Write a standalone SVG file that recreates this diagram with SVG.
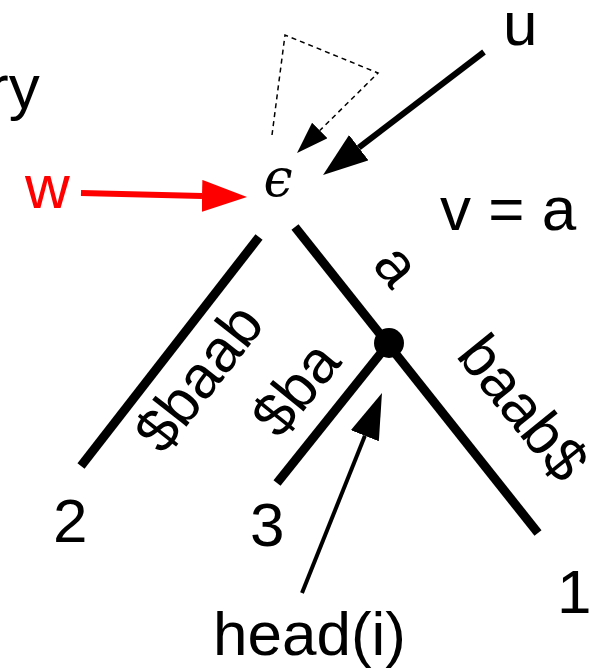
<svg xmlns="http://www.w3.org/2000/svg" width="607" height="671" viewBox="0 0 607 671">
<style>
  .t { font-family: "Liberation Sans", Arial, sans-serif; font-size: 62px; fill: #000; }
  .lbl { font-family: "Liberation Sans", Arial, sans-serif; font-size: 60px; fill: #000; text-anchor: middle; }
  .edge { stroke: #000; stroke-width: 9; fill: none; }
  .arr { stroke: #000; stroke-width: 6; fill: none; }
  .dash { stroke: #000; stroke-width: 1.5; stroke-dasharray: 5 4; fill: none; }
</style>
<defs>
  <marker id="ahBig" markerUnits="userSpaceOnUse" markerWidth="46" markerHeight="32" refX="0" refY="16" orient="auto">
    <path d="M0,0 L45,16 L0,32 z" fill="#000"/>
  </marker>
  <marker id="ahRed" markerUnits="userSpaceOnUse" markerWidth="46" markerHeight="32" refX="0" refY="16" orient="auto">
    <path d="M0,0 L45,16 L0,32 z" fill="#ff0000"/>
  </marker>
  <marker id="ahHead" markerUnits="userSpaceOnUse" markerWidth="47" markerHeight="30" refX="0" refY="15" orient="auto">
    <path d="M0,0 L46,15 L0,30 z" fill="#000"/>
  </marker>
  <marker id="ahDash" markerUnits="userSpaceOnUse" markerWidth="33" markerHeight="22" refX="0" refY="11" orient="auto">
    <path d="M0,0 L32,11 L0,22 z" fill="#000"/>
  </marker>
</defs>

<g id="connectors">
  <line id="edge-root-2" class="edge" x1="259" y1="237" x2="81" y2="466"/>
  <line id="edge-root-1" class="edge" x1="295" y1="227" x2="538" y2="533"/>
  <line id="edge-v-3" class="edge" x1="389" y1="343" x2="277" y2="483"/>
  <polyline id="arrow-dashed" class="dash" points="272,135 285,35 378,73 319.8,130.5" marker-end="url(#ahDash)"/>
  <line id="arrow-u" class="arr" x1="484" y1="52" x2="358.8" y2="147.7" marker-end="url(#ahBig)"/>
  <line id="arrow-w" class="arr" style="stroke:#ff0000" x1="81" y1="193" x2="202" y2="195.9" marker-end="url(#ahRed)"/>
  <line id="arrow-head" class="arr" style="stroke-width:4" x1="302" y1="593" x2="364.9" y2="435.7" marker-end="url(#ahHead)"/>
</g>

<g id="edge-labels">
  <text class="lbl" transform="translate(394,268) rotate(51)" y="16">a</text>
  <text class="lbl" transform="translate(199,378) rotate(-52)" y="20">$baab</text>
  <text class="lbl" transform="translate(296,389) rotate(-51)" y="20">$ba</text>
  <text class="lbl" transform="translate(523,408) rotate(51)" y="20">baab$</text>
</g>

<g id="node-root">
  <text x="278" y="196" font-family="DejaVu Serif, serif" font-style="italic" font-size="52" text-anchor="middle">ϵ</text>
</g>
<g id="node-v">
  <circle cx="389" cy="343" r="15" fill="#000"/>
</g>
<g id="node-2"><text class="t" x="53" y="542">2</text></g>
<g id="node-3"><text class="t" x="250" y="546">3</text></g>
<g id="node-1"><text class="t" x="557" y="613">1</text></g>
<g id="label-u"><text class="t" x="503" y="45">u</text></g>
<g id="label-w"><text class="t" x="25" y="208" style="fill:#ff0000">w</text></g>
<g id="label-v"><text class="t" x="440" y="230">v = a</text></g>
<g id="label-ry"><text class="t" x="-12" y="108">ry</text></g>
<g id="label-head"><text class="t" x="213" y="655">head(i)</text></g>
</svg>
